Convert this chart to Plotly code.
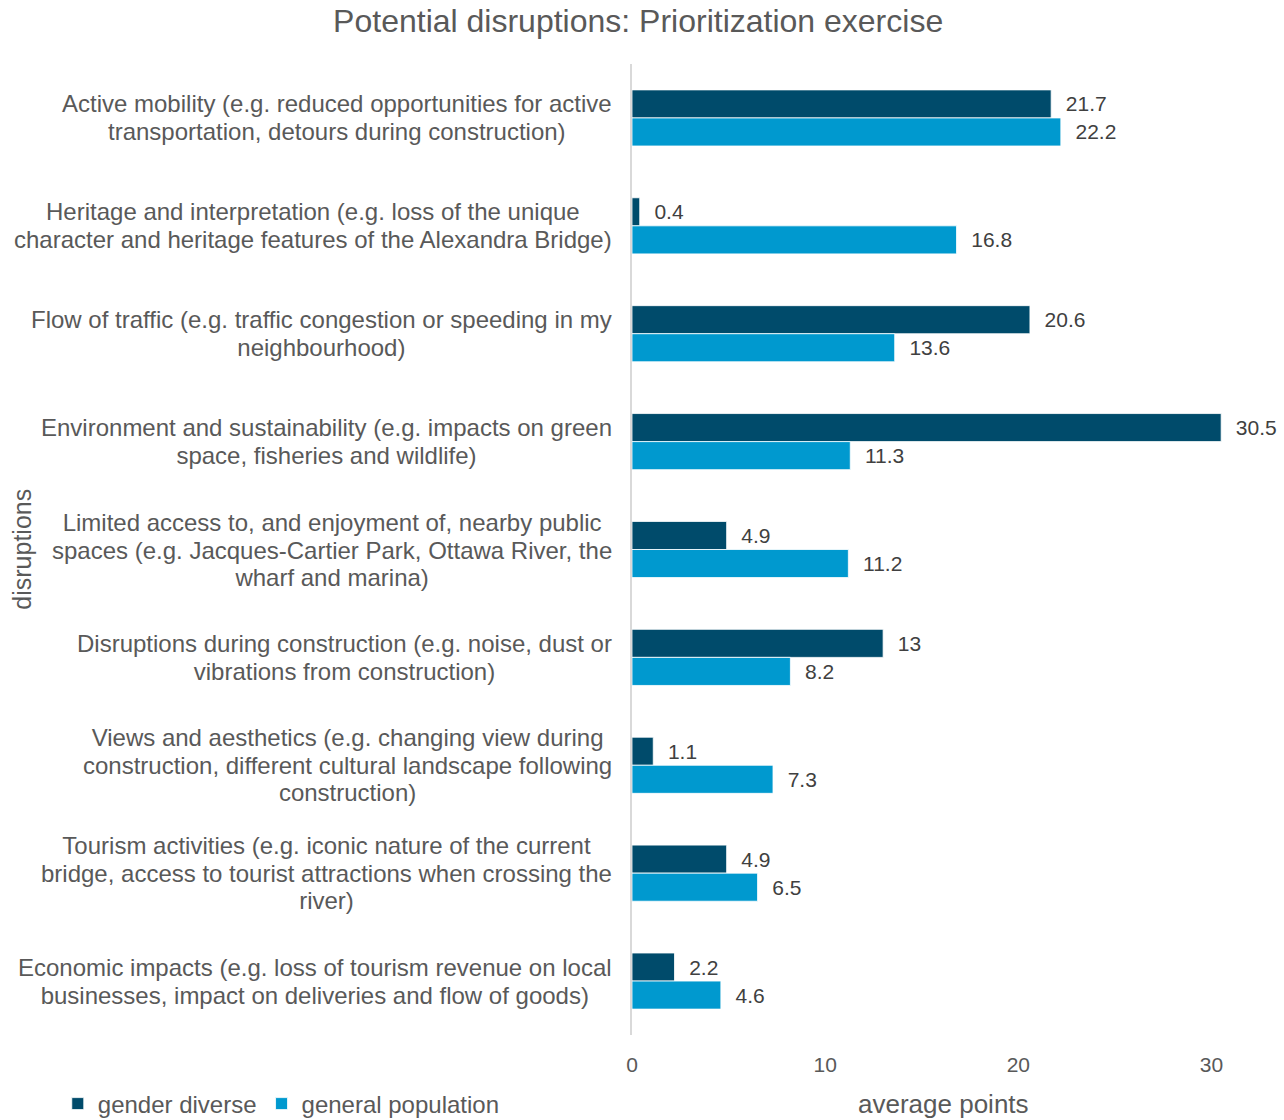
import plotly.graph_objects as go

categories = [
    "Active mobility (e.g. reduced opportunities for active<br>transportation, detours during construction)",
    "Heritage and interpretation (e.g. loss of the unique<br>character and heritage features of the Alexandra Bridge)",
    "Flow of traffic (e.g. traffic congestion or speeding in my<br>neighbourhood)",
    "Environment and sustainability (e.g. impacts on green<br>space, fisheries and wildlife)",
    "Limited access to, and enjoyment of, nearby public<br>spaces (e.g. Jacques-Cartier Park, Ottawa River, the<br>wharf and marina)",
    "Disruptions during construction (e.g. noise, dust or<br>vibrations from construction)",
    "Views and aesthetics (e.g. changing view during<br>construction, different cultural landscape following<br>construction)",
    "Tourism activities (e.g. iconic nature of the current<br>bridge, access to tourist attractions when crossing the<br>river)",
    "Economic impacts (e.g. loss of tourism revenue on local<br>businesses, impact on deliveries and flow of goods)",
]
gender_diverse = [21.7, 0.4, 20.6, 30.5, 4.9, 13, 1.1, 4.9, 2.2]
general_population = [22.2, 16.8, 13.6, 11.3, 11.2, 8.2, 7.3, 6.5, 4.6]
x_ticks = [0, 10, 20, 30]

FONT = "Liberation Sans"
DARK = "#404040"
GREY = "#595959"

fig = go.Figure()
for name, vals, color in [
    ("gender diverse", gender_diverse, "#004b6b"),
    ("general population", general_population, "#0099cf"),
]:
    fig.add_trace(go.Bar(
        name=name, y=categories, x=vals, orientation="h",
        marker=dict(color=color, line=dict(color="rgba(255,255,255,0.8)", width=1)),
        text=[f"{v:g}" for v in vals],
        texttemplate="\u00a0\u00a0%{text}",
        textposition="outside", constraintext="none", cliponaxis=False,
        textfont=dict(family=FONT, size=21, color=DARK),
    ))

# category labels: centred multi-line text to the left of the axis,
# with tighter line spacing than the default (base size sets the line step)
for c in categories:
    lines = c.split("<br>")
    txt = "<br>".join(f"<span style='font-size:24px'>{ln}</span>" for ln in lines)
    fig.add_annotation(
        x=0, xref="x", y=c, yref="y", text=txt, showarrow=False,
        xanchor="right", yanchor="middle", xshift=-18, align="center",
        font=dict(family=FONT, size=21.2, color=GREY),
    )

# axis titles
fig.add_annotation(
    x=-0.982, xref="paper", y=0.5, yref="paper", text="disruptions",
    textangle=-90, showarrow=False, xanchor="center", yanchor="middle",
    font=dict(family=FONT, size=25, color=GREY),
)
fig.add_annotation(
    x=0.5, xref="paper", y=-0.0711, yref="paper",
    text="average points", showarrow=False,
    xanchor="center", yanchor="middle",
    font=dict(family=FONT, size=26, color=GREY),
)

fig.update_layout(
    width=1284, height=1120,
    margin=dict(l=632, r=30, t=64, b=85, autoexpand=False),
    paper_bgcolor="white", plot_bgcolor="white",
    barmode="group", bargap=0.48, bargroupgap=0,
    title=dict(text="Potential disruptions: Prioritization exercise",
               x=0.497, xanchor="center", y=0.981, yanchor="middle",
               font=dict(family=FONT, size=32, color=GREY)),
    xaxis=dict(range=[0, 32.2], tickvals=x_ticks, showgrid=False,
               zeroline=False, showline=False, ticks="outside",
               ticklen=11, tickcolor="rgba(0,0,0,0)", automargin=False,
               tickfont=dict(family=FONT, size=21, color=GREY)),
    yaxis=dict(autorange="reversed", showticklabels=False, ticks="",
               showgrid=False, zeroline=False, showline=True,
               linecolor="#d9d9d9", linewidth=1.5, automargin=False),
    legend=dict(orientation="h", x=0.045, xref="container", xanchor="left",
                y=1 - 1104 / 1120, yref="container", yanchor="middle",
                traceorder="normal",
                font=dict(family=FONT, size=24, color=GREY),
                itemwidth=30),
    showlegend=True,
    font=dict(family=FONT),
)

fig.write_html("out.html")
